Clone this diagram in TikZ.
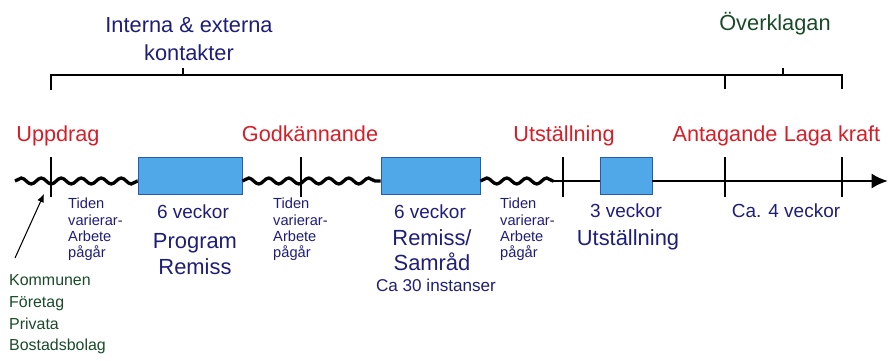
\documentclass[tikz,border=0pt]{standalone}
\usepackage{fontspec}
\setmainfont{Liberation Sans}
\usetikzlibrary{decorations.pathmorphing,arrows.meta}
\definecolor{textnavy}{RGB}{30,30,120}
\definecolor{milered}{RGB}{215,30,40}
\definecolor{partgreen}{RGB}{25,75,40}
\definecolor{boxblue}{RGB}{80,168,232}
\definecolor{edgeblue}{RGB}{40,90,180}
\begin{document}
\begin{tikzpicture}[x=0.03cm,y=-0.03cm,
 milestone/.style={text=milered,font=\fontsize{18.5}{22}\selectfont,anchor=base,inner sep=0},
 phasebox/.style={draw=edgeblue,fill=boxblue,line width=0.8pt,minimum height=1.11cm,inner sep=0},
 wave/.style={line width=2.8pt,decorate,decoration={snake,segment length=0.6cm,amplitude=0.09cm}},
 axis/.style={line width=2.4pt},
 tickmark/.style={line width=1.2pt},
 bracket/.style={line width=1.1pt},
 topnote/.style={font=\fontsize{18.6}{24}\selectfont,align=center,inner sep=0,anchor=north},
 worknote/.style={text=textnavy,font=\fontsize{12.5}{13.9}\selectfont,align=left,inner sep=0,anchor=north west},
 weeks/.style={text=textnavy,font=\fontsize{16.2}{20}\selectfont,inner sep=0,anchor=base},
 phasename/.style={text=textnavy,font=\fontsize{18.7}{22}\selectfont,align=center,inner sep=0,anchor=north},
 actorlist/.style={text=partgreen,font=\fontsize{13.6}{18.7}\selectfont,align=left,inner sep=0,anchor=north west}]
\useasboundingbox (0,0) rectangle (892,360);

% bracket above the time line
\draw[bracket] (51,90) -- (51,75) -- (842,75) -- (842,89);
\draw[bracket] (183,75) -- (183,68);
\draw[bracket] (725,75) -- (725,89);
\draw[bracket] (783,75) -- (783,68);
\node[topnote,text=textnavy] (contacts) at (189,17) {Interna \& externa\\kontakter};
\node[topnote,text=partgreen] (appeal) at (775,12) {Överklagan};

% phases
\node[phasebox,minimum width=3.12cm] (program) at (190,175.5) {};
\node[phasebox,minimum width=2.97cm] (consult) at (430.5,175.5) {};
\node[phasebox,minimum width=1.56cm] (exhibit) at (626,175.5) {};

% time line
\coordinate (start) at (15,181);
\coordinate (waveend) at (553,181);
\coordinate (tip) at (888,181);
\draw[wave] (start) -- (program.west |- start);
\draw[wave] (program.east |- start) -- (consult.west |- start);
\draw[wave] (consult.east |- start) -- (waveend);
\draw[axis] (waveend) -- (exhibit.west |- start);
\draw[axis,-{Latex[length=14pt,width=13pt]}] (exhibit.east |- start) -- (tip);
\foreach \x in {51,301,563,725,842}
 \draw[tickmark] (\x,157) -- (\x,197);

% milestones
\node[milestone] (assign) at (58,141.6) {Uppdrag};
\node[milestone] (approve) at (310,141.6) {Godkännande};
\node[milestone] (exhibition) at (564,141.6) {Utställning};
\node[milestone] (adopt) at (725,141.6) {Antagande};
\node[milestone] (legal) at (832,141.6) {Laga kraft};

% texts below the time line
\node[worknote] (work1) at (68,198) {Tiden\\varierar-\\Arbete\\pågår};
\node[worknote] (work2) at (273,198) {Tiden\\varierar-\\Arbete\\pågår};
\node[worknote] (work3) at (500,198) {Tiden\\varierar-\\Arbete\\pågår};
\node[weeks] (weeks1) at (193,218) {6 veckor};
\node[phasename] (name1) at (195,233) {Program\\Remiss};
\node[weeks] (weeks2) at (430,218) {6 veckor};
\node[phasename] (name2) at (432,229) {Remiss/\\Samråd};
\node[text=textnavy,font=\fontsize{14.6}{16}\selectfont,inner sep=0,anchor=base] (bodies) at (436,291) {Ca 30 instanser};
\node[weeks] (weeks3) at (626,217) {3 veckor};
\node[phasename] (name3) at (628,229) {Utställning};
\node[weeks] (weeks4) at (786,217) {Ca. 4 veckor};

% parties
\node[actorlist] (actors) at (9,274) {Kommunen\\Företag\\Privata\\Bostadsbolag};
\coordinate (pointer) at (15,258);
\coordinate (target) at (44,194);
\draw[line width=0.9pt,-{Latex[length=7pt,width=6pt]}] (pointer) -- (target);
\end{tikzpicture}
\end{document}
